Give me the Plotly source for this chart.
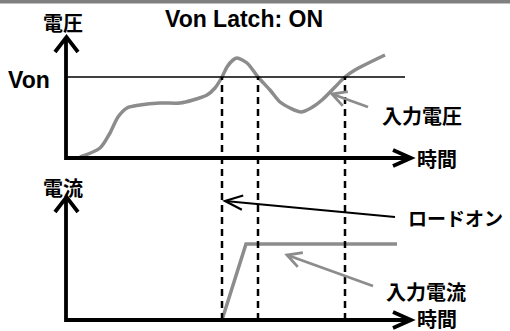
import math
import plotly.graph_objects as go

W, H = 510, 331

# ---------------- data ----------------
# input voltage curve (time units, voltage units)
time_v = [14, 34, 44, 52, 61, 74, 94, 114, 127, 141, 149, 156, 161, 167, 171,
          181, 192, 204, 214, 224, 235, 245, 256, 269, 279, 289, 319]
volt = [1, 10, 25, 41, 50, 53, 55, 55, 58, 63, 70, 81, 91, 98, 100,
        95, 81, 68, 56, 50, 46, 50, 58, 71, 81, 88, 103]
von_level = 81
von_end = 339
cross_times = [156, 192, 279]

# input current
time_i = [156, 180, 331]
curr = [0, 76, 76]

labels_title = "Von Latch: ON"
label_v_axis = "電圧"
label_i_axis = "電流"
label_time = "時間"
label_von = "Von"
label_vin = "入力電圧"
label_iin = "入力電流"
label_loadon = "ロードオン"

GREY = "#8c8c8c"
LATIN = "Liberation Sans, Arial, sans-serif"
CJK = "Noto Sans CJK JP, sans-serif"

# axis mapping (pixel -> data): x pixel = t + 66 ; top: p = 158 - v ; bottom: p = 320 - c
X_RANGE = [-66, 444]
Y_RANGE = [158 - H, 158]
Y2_RANGE = [320 - H, 320]


def P(x, y):
    return x / W, 1 - y / H


fig = go.Figure()

# voltage curve
fig.add_trace(go.Scatter(x=time_v, y=volt, mode="lines",
                         line=dict(color=GREY, width=3.5, shape="spline", smoothing=0.8),
                         yaxis="y", hoverinfo="skip", showlegend=False))
# von level line
fig.add_trace(go.Scatter(x=[0, von_end], y=[von_level, von_level], mode="lines",
                         line=dict(color="black", width=1.3), yaxis="y",
                         hoverinfo="skip", showlegend=False))
# current
fig.add_trace(go.Scatter(x=time_i, y=curr, mode="lines",
                         line=dict(color=GREY, width=3.5), yaxis="y2",
                         hoverinfo="skip", showlegend=False))

shapes = []
# top grey bar (frame edge)
shapes.append(dict(type="rect", xref="paper", yref="paper", x0=0, x1=1,
                   y0=1 - 3.5 / H, y1=1, fillcolor="#808080",
                   line=dict(width=0), layer="above"))

# dashed verticals
ytop = P(0, 77)[1]
ybot = P(0, 320)[1]
for t in cross_times:
    shapes.append(dict(type="line", xref="x", yref="paper", x0=t, x1=t, y0=ybot, y1=ytop,
                       line=dict(color="black", width=2.5, dash="7px,5px")))


def path(points):
    s = ""
    for i, (x, y) in enumerate(points):
        px, py = P(x, y)
        s += ("M" if i == 0 else " L") + f" {px:.5f},{py:.5f}"
    return s


def line_px(points, color="black", width=3.5):
    shapes.append(dict(type="path", xref="paper", yref="paper", path=path(points),
                       line=dict(color=color, width=width)))


# axes
for (yb, ytip) in [(158, 37), (320, 197)]:
    line_px([(66, ytip + 1), (66, yb), (410, yb)], width=3.8)
    line_px([(55, ytip + 15), (66.5, ytip), (78, ytip + 15)], width=3.8)
    line_px([(393, yb - 8), (411, yb), (393, yb + 8)], width=3.8)


def arrow(tail, tip, color, width, alen, ang):
    line_px([tail, tip], color=color, width=width)
    dx, dy = tail[0] - tip[0], tail[1] - tip[1]
    L = math.hypot(dx, dy)
    ux, uy = dx / L, dy / L
    pts = []
    for s in (-1, 1):
        a = math.radians(ang) * s
        rx = ux * math.cos(a) - uy * math.sin(a)
        ry = ux * math.sin(a) + uy * math.cos(a)
        pts.append((tip[0] + rx * alen, tip[1] + ry * alen))
    line_px([pts[0], tip, pts[1]], color=color, width=width)


arrow((395, 217), (225, 201), "black", 2.2, 19, 22)
arrow((368, 107), (332, 94), GREY, 2.8, 16, 28)
arrow((373, 286), (287, 255), GREY, 2.8, 16, 28)

fig.update_layout(shapes=shapes)

annots = [
    (labels_title, 243.5, 19, LATIN, 23, "center"),
    (label_v_axis, 63, 23, CJK, 20, "center"),
    (label_von, 29, 80, LATIN, 23, "center"),
    (label_vin, 422, 115, CJK, 20, "center"),
    (label_time, 437, 158, CJK, 20, "center"),
    (label_i_axis, 63, 187, CJK, 20, "center"),
    (label_loadon, 455, 217, CJK, 19, "center"),
    (label_iin, 426, 291, CJK, 20, "center"),
    (label_time, 437, 318.5, CJK, 20, "center"),
]
for text, x, y, fam, size, anc in annots:
    px, py = P(x, y)
    fig.add_annotation(text=text, x=px, y=py, xref="paper", yref="paper",
                       xanchor=anc, yanchor="middle", showarrow=False,
                       font=dict(family=fam, size=size, color="black", weight="bold"))

fig.update_layout(
    width=W, height=H, margin=dict(l=0, r=0, t=0, b=0),
    paper_bgcolor="white", plot_bgcolor="white",
    xaxis=dict(range=X_RANGE, visible=False, fixedrange=True),
    yaxis=dict(range=Y_RANGE, visible=False, fixedrange=True),
    yaxis2=dict(range=Y2_RANGE, visible=False, overlaying="y", fixedrange=True),
    showlegend=False,
)

fig.write_html("out.html", config={"displayModeBar": False},
               post_script="document.documentElement.style.margin='0';document.documentElement.style.overflow='hidden';document.body.style.margin='0';document.body.style.padding='0';document.body.style.overflow='hidden';window.scrollTo(0,0);")
